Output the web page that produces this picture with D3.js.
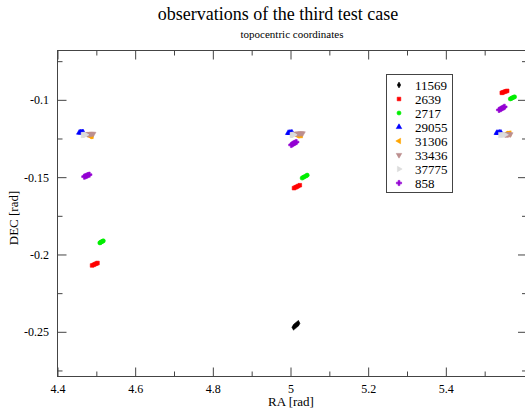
<!DOCTYPE html>
<html lang="en">
<head>
<meta charset="UTF-8"/>
<title>observations of the third test case</title>
<script src="https://d3js.org/d3.v7.min.js"></script>
<style>
  body { margin: 0; background: #fff; }
  text { font-family: "Liberation Serif", "DejaVu Serif", serif; fill: #000; }
</style>
</head>
<body>
<script>
	var w = 525;
	var h = 409;

	// set names, in drawing order
	var names = ["11569", "2639", "2717", "29055", "31306", "33436", "37775", "858"];
	var colors = ["#000000", "#ff0000", "#00ee00", "#0000ff", "#ffa500", "#bc8f8f", "#dcdcdc", "#9400d3"];

	// observations [RA, DEC] in rad, one array per set
	var obs11569 = [[5.008,-0.2471],[5.011,-0.2464],[5.014,-0.2458],[5.017,-0.2451],[5.020,-0.2445]];
	var obs2639 = [
		[4.489,-0.2071],[4.493,-0.2067],[4.496,-0.2063],[4.500,-0.2059],[4.503,-0.2055],
		[5.009,-0.1571],[5.013,-0.1566],[5.016,-0.1562],[5.020,-0.1557],[5.024,-0.1552],
		[5.544,-0.0955],[5.547,-0.0952],[5.551,-0.0948],[5.554,-0.0945],[5.558,-0.0942]];
	var obs2717 = [
		[4.509,-0.1925],[4.511,-0.1922],[4.513,-0.1918],[4.516,-0.1915],[4.518,-0.1912],
		[5.030,-0.1506],[5.033,-0.1501],[5.036,-0.1497],[5.040,-0.1492],[5.043,-0.1487],
		[5.566,-0.0994],[5.569,-0.0991],[5.571,-0.0987],[5.574,-0.0984],[5.577,-0.0981]];
	var obs29055 = [
		[4.456,-0.1212],[4.459,-0.1211],[4.461,-0.1211],[4.464,-0.1210],[4.466,-0.1210],
		[4.994,-0.1214],[4.997,-0.1214],[4.999,-0.1213],[5.002,-0.1213],[5.004,-0.1212],
		[5.531,-0.1214],[5.534,-0.1214],[5.537,-0.1213],[5.539,-0.1213],[5.542,-0.1212]];
	var obs31306 = [
		[4.483,-0.1234],[4.484,-0.1234],[4.486,-0.1233],[4.487,-0.1233],[4.488,-0.1232],
		[5.017,-0.1230],[5.020,-0.1230],[5.022,-0.1229],[5.025,-0.1229],[5.027,-0.1228],
		[5.555,-0.1220],[5.557,-0.1220],[5.560,-0.1219],[5.562,-0.1219],[5.564,-0.1218]];
	var obs33436 = [
		[4.477,-0.1222],[4.481,-0.1221],[4.484,-0.1221],[4.488,-0.1220],[4.492,-0.1220],
		[5.015,-0.1219],[5.019,-0.1218],[5.023,-0.1218],[5.027,-0.1217],[5.031,-0.1217],
		[5.553,-0.1225],[5.556,-0.1224],[5.559,-0.1224],[5.562,-0.1223],[5.566,-0.1223]];
	var obs37775 = [
		[4.465,-0.1228],[4.467,-0.1227],[4.469,-0.1227],[4.471,-0.1226],[4.473,-0.1226],
		[5.003,-0.1228],[5.005,-0.1227],[5.006,-0.1227],[5.008,-0.1226],[5.009,-0.1226],
		[5.540,-0.1228],[5.543,-0.1227],[5.546,-0.1227],[5.549,-0.1226],[5.553,-0.1226]];
	var obs858 = [
		[4.469,-0.1497],[4.472,-0.1494],[4.475,-0.1491],[4.478,-0.1487],[4.482,-0.1484],
		[5.002,-0.1292],[5.005,-0.1287],[5.008,-0.1282],[5.011,-0.1278],[5.015,-0.1273],
		[5.537,-0.1065],[5.541,-0.1060],[5.544,-0.1055],[5.548,-0.1050],[5.551,-0.1045]];

	var sets = [obs11569, obs2639, obs2717, obs29055, obs31306, obs33436, obs37775, obs858];

	// tick values
	var xMajor = [4.4, 4.6, 4.8, 5.0, 5.2, 5.4];
	var xMinor = [4.5, 4.7, 4.9, 5.1, 5.3, 5.5];
	var yMajor = [-0.25, -0.2, -0.15, -0.1];
	var yMinor = [-0.275, -0.225, -0.175, -0.125, -0.075];

	// plot frame (note: "top" is a reserved window property, so use other names)
	var frameL = 57.5, frameR = 527, frameT = 50.5, frameB = 376.5;

	var xScale = d3.scaleLinear()
		.domain([4.4, 5.609])
		.range([frameL, frameR]);

	var yScale = d3.scaleLinear()
		.domain([-0.2789, -0.0681])
		.range([frameB, frameT]);

	var svg = d3.select("body")
		.append("svg")
		.attr("width", w)
		.attr("height", h);

	// symbols: grace style (diamond, square, circle, triangles, plus)
	var tri = d3.symbol().type(d3.symbolTriangle).size(13);
	var shapes = [
		{ path: d3.symbol().type(d3.symbolDiamond).size(10)(), rot: 0 },
		{ path: d3.symbol().type(d3.symbolSquare).size(13)(), rot: 0 },
		{ path: d3.symbol().type(d3.symbolCircle).size(13)(), rot: 0 },
		{ path: tri(), rot: 0 },
		{ path: tri(), rot: -90 },
		{ path: tri(), rot: 180 },
		{ path: tri(), rot: 90 },
		{ path: d3.symbol().type(d3.symbolCross).size(15)(), rot: 0 }
	];

	var fmt = function(d) { return String(+d.toFixed(3)); };
	var axisCol = "#444";

	// frame
	svg.append("rect")
		.attr("x", frameL).attr("y", frameT)
		.attr("width", frameR - frameL).attr("height", frameB - frameT)
		.attr("fill", "none").attr("stroke", axisCol).attr("stroke-width", 1);

	function drawAxis(axis, tx, ty) {
		var g = svg.append("g")
			.attr("transform", "translate(" + tx + "," + ty + ")")
			.call(axis);
		g.attr("font-family", null);
		g.select(".domain").remove();
		g.selectAll("line").attr("stroke", axisCol);
		g.selectAll("text")
			.style("font-family", "'Liberation Serif', serif")
			.style("font-size", "12px")
			.attr("fill", "#000");
		return g;
	}

	// x axes (bottom with labels, top mirrored), ticks pointing in
	drawAxis(d3.axisBottom(xScale).tickValues(xMajor).tickSizeInner(-9).tickSizeOuter(0).tickPadding(8).tickFormat(fmt), 0, frameB);
	drawAxis(d3.axisBottom(xScale).tickValues(xMinor).tickSizeInner(-5).tickSizeOuter(0).tickFormat(""), 0, frameB);
	drawAxis(d3.axisTop(xScale).tickValues(xMajor).tickSizeInner(-9).tickSizeOuter(0).tickFormat(""), 0, frameT);
	drawAxis(d3.axisTop(xScale).tickValues(xMinor).tickSizeInner(-5).tickSizeOuter(0).tickFormat(""), 0, frameT);

	// y axes
	drawAxis(d3.axisLeft(yScale).tickValues(yMajor).tickSizeInner(-9).tickSizeOuter(0).tickPadding(8.5).tickFormat(fmt), frameL, 0);
	drawAxis(d3.axisLeft(yScale).tickValues(yMinor).tickSizeInner(-5).tickSizeOuter(0).tickFormat(""), frameL, 0);
	drawAxis(d3.axisRight(yScale).tickValues(yMajor).tickSizeInner(-9).tickSizeOuter(0).tickFormat(""), frameR, 0);
	drawAxis(d3.axisRight(yScale).tickValues(yMinor).tickSizeInner(-5).tickSizeOuter(0).tickFormat(""), frameR, 0);

	// points
	sets.forEach(function(data, i) {
		svg.append("g")
			.selectAll("path")
			.data(data)
			.enter()
			.append("path")
			.attr("d", shapes[i].path)
			.attr("transform", function(d) {
				return "translate(" + xScale(d[0]) + "," + yScale(d[1]) + ") rotate(" + shapes[i].rot + ")";
			})
			.attr("fill", colors[i])
			.attr("stroke", colors[i])
			.attr("stroke-width", 0.6);
	});

	// legend
	var lx = 386.5, ly = 74.5, lrow = 14;
	svg.append("rect")
		.attr("x", lx).attr("y", ly)
		.attr("width", 66).attr("height", 118)
		.attr("fill", "#fff").attr("stroke", axisCol).attr("stroke-width", 1);

	var leg = svg.selectAll(".leg")
		.data(names)
		.enter()
		.append("g")
		.attr("class", "leg")
		.attr("transform", function(d, i) { return "translate(" + (lx + 12.5) + "," + (ly + 10.5 + i * lrow) + ")"; });

	leg.append("path")
		.attr("d", function(d, i) { return shapes[i].path; })
		.attr("transform", function(d, i) { return "rotate(" + shapes[i].rot + ")"; })
		.attr("fill", function(d, i) { return colors[i]; })
		.attr("stroke", function(d, i) { return colors[i]; })
		.attr("stroke-width", 0.6);

	leg.append("text")
		.attr("x", 16)
		.attr("y", 4.5)
		.style("font-size", "13px")
		.text(function(d) { return d; });

	// titles
	svg.append("text")
		.attr("text-anchor", "middle")
		.attr("x", 278)
		.attr("y", 20)
		.style("font-size", "18px")
		.text("observations of the third test case");

	svg.append("text")
		.attr("text-anchor", "middle")
		.attr("x", 292)
		.attr("y", 38)
		.style("font-size", "11px")
		.text("topocentric coordinates");

	// axis labels
	svg.append("text")
		.attr("text-anchor", "middle")
		.attr("x", 291)
		.attr("y", 406)
		.style("font-size", "13px")
		.text("RA [rad]");

	svg.append("text")
		.attr("text-anchor", "middle")
		.attr("transform", "rotate(-90)")
		.attr("x", -218)
		.attr("y", 18)
		.style("font-size", "13px")
		.text("DEC [rad]");
</script>
</body>
</html>
